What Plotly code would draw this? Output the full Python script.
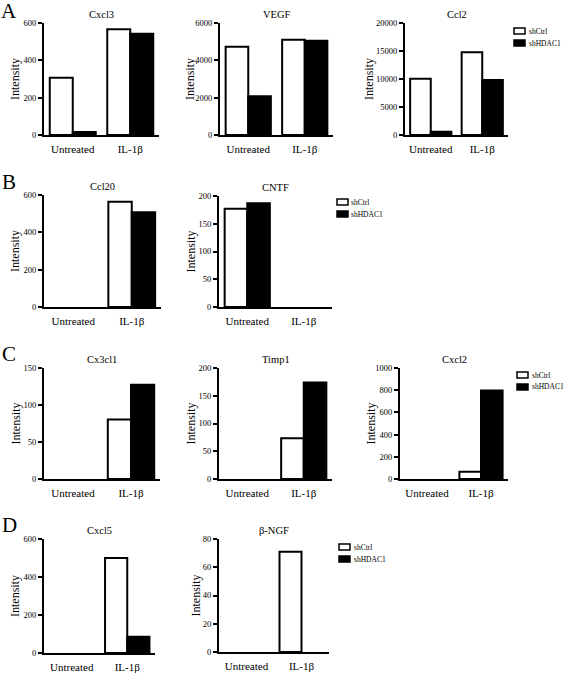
import plotly.graph_objects as go

# ---------------- data ----------------
conditions = ["Untreated", "IL-1β"]
series_names = ["shCtrl", "shHDAC1"]

panel_names = ["Cxcl3", "VEGF", "Ccl2", "Ccl20", "CNTF", "Cx3cl1", "Timp1", "Cxcl2", "Cxcl5", "β-NGF"]
shctrl_vals = {
    "Cxcl3": [307, 566], "VEGF": [4730, 5105], "Ccl2": [10050, 14770],
    "Ccl20": [0, 564], "CNTF": [177, 0],
    "Cx3cl1": [0, 80.5], "Timp1": [0, 73.5], "Cxcl2": [0, 65],
    "Cxcl5": [0, 500], "β-NGF": [0, 71],
}
shhdac1_vals = {
    "Cxcl3": [16, 543], "VEGF": [2073, 5050], "Ccl2": [590, 9820],
    "Ccl20": [0, 507], "CNTF": [187, 0],
    "Cx3cl1": [0, 127.5], "Timp1": [0, 174], "Cxcl2": [0, 797],
    "Cxcl5": [0, 85], "β-NGF": [0, 0],
}
y_max = {"Cxcl3": 600, "VEGF": 6000, "Ccl2": 20000, "Ccl20": 600, "CNTF": 200,
         "Cx3cl1": 150, "Timp1": 200, "Cxcl2": 1000, "Cxcl5": 600, "β-NGF": 80}
y_dtick = {"Cxcl3": 200, "VEGF": 2000, "Ccl2": 5000, "Ccl20": 200, "CNTF": 50,
           "Cx3cl1": 50, "Timp1": 50, "Cxcl2": 200, "Cxcl5": 200, "β-NGF": 20}
panel_letters = ["A", "B", "C", "D"]

# ---------------- layout (pixels) ----------------
W, H = 566, 673
FONT = "Liberation Serif"
# (x0, x1, ytop, ybottom, ytitle_x)
geom = {
    "Cxcl3": (44, 159, 23, 135, 15), "VEGF": (220, 333, 23, 135, 190), "Ccl2": (405, 508, 23, 135, 369),
    "Ccl20": (44, 161, 195, 307, 15), "CNTF": (219, 332, 196, 307, 190),
    "Cx3cl1": (44, 160, 368, 479, 15), "Timp1": (219, 332, 368, 479, 190), "Cxcl2": (400, 508, 368, 479, 370),
    "Cxcl5": (44, 155, 539, 653, 15), "β-NGF": (219, 329, 539, 652, 195),
}
letter_pos = [(9, 11), (9, 182), (9, 354), (9, 525)]
legend_pos = [(514, 28), (337, 199), (517, 372), (339, 544)]  # box left, top of first box

def px(x):
    return x / W

def py(y):
    return 1 - y / H

def outline(vals):
    return [2 if v > 0 else 0 for v in vals]

fig = go.Figure()
layout = dict(
    width=W, height=H, margin=dict(l=0, r=0, t=0, b=0, autoexpand=False),
    paper_bgcolor="white", plot_bgcolor="white",
    showlegend=False, barmode="group", bargap=0.2, bargroupgap=0,
    font=dict(family=FONT, color="black"),
)
annotations = []
shapes = []

for i, name in enumerate(panel_names):
    k = i + 1
    xa = "x" if k == 1 else f"x{k}"
    ya = "y" if k == 1 else f"y{k}"
    x0, x1, yt, yb, ytx = geom[name]
    fig.add_trace(go.Bar(x=conditions, y=shctrl_vals[name], name=series_names[0],
                         marker=dict(color="white",
                                     line=dict(color="black", width=outline(shctrl_vals[name]))),
                         xaxis=xa, yaxis=ya, width=0.4, offset=-0.4))
    fig.add_trace(go.Bar(x=conditions, y=shhdac1_vals[name], name=series_names[1],
                         marker=dict(color="black",
                                     line=dict(color="black", width=outline(shhdac1_vals[name]))),
                         xaxis=xa, yaxis=ya, width=0.4, offset=0.0))
    xkey = "xaxis" if k == 1 else f"xaxis{k}"
    ykey = "yaxis" if k == 1 else f"yaxis{k}"
    layout[xkey] = dict(domain=[px(x0), px(x1)], anchor=ya, range=[-0.5, 1.5],
                        showline=True, linecolor="black", linewidth=2, ticks="",
                        showgrid=False, zeroline=False, ticklabelstandoff=3,
                        tickfont=dict(family=FONT, size=11, color="black"),
                        automargin=False, fixedrange=True)
    layout[ykey] = dict(domain=[py(yb), py(yt)], anchor=xa, range=[0, y_max[name]],
                        dtick=y_dtick[name], tick0=0, tickformat="d", showline=True,
                        linecolor="black", linewidth=2, ticks="outside", ticklen=4,
                        tickwidth=1.5, tickcolor="black", showgrid=False, zeroline=False,
                        tickfont=dict(family=FONT, size=8.5, color="black"),
                        ticklabelstandoff=0, automargin=False, fixedrange=True)
    annotations.append(dict(text=name, x=px((x0 + x1) / 2), y=py(yt - 9), xref="paper",
                            yref="paper", showarrow=False, xanchor="center", yanchor="middle",
                            font=dict(family=FONT, size=10.5, color="black")))
    annotations.append(dict(text="Intensity", x=px(ytx), y=py((yt + yb) / 2), xref="paper",
                            yref="paper", showarrow=False, textangle=-90, xanchor="center",
                            yanchor="middle", font=dict(family=FONT, size=12, color="black")))

for letter, (lx, ly) in zip(panel_letters, letter_pos):
    annotations.append(dict(text=letter, x=px(lx), y=py(ly), xref="paper", yref="paper",
                            showarrow=False, xanchor="center", yanchor="middle",
                            font=dict(family=FONT, size=21, color="black")))

for (bx, by) in legend_pos:
    for j, (nm, col) in enumerate(zip(series_names, ["white", "black"])):
        top = by + j * 12
        shapes.append(dict(type="rect", xref="paper", yref="paper",
                           x0=px(bx), x1=px(bx + 11), y0=py(top), y1=py(top + 6),
                           fillcolor=col, line=dict(color="black", width=1.5)))
        annotations.append(dict(text=nm, x=px(bx + 12.5), y=py(top + 3), xref="paper",
                                yref="paper", showarrow=False, xanchor="left", yanchor="middle",
                                font=dict(family=FONT, size=7.5, color="black")))

layout["annotations"] = annotations
layout["shapes"] = shapes
fig.update_layout(**layout)
fig.write_html(
    "out.html",
    config={"displayModeBar": False},
    post_script="document.body.style.margin='0';document.body.style.overflow='hidden';",
)
